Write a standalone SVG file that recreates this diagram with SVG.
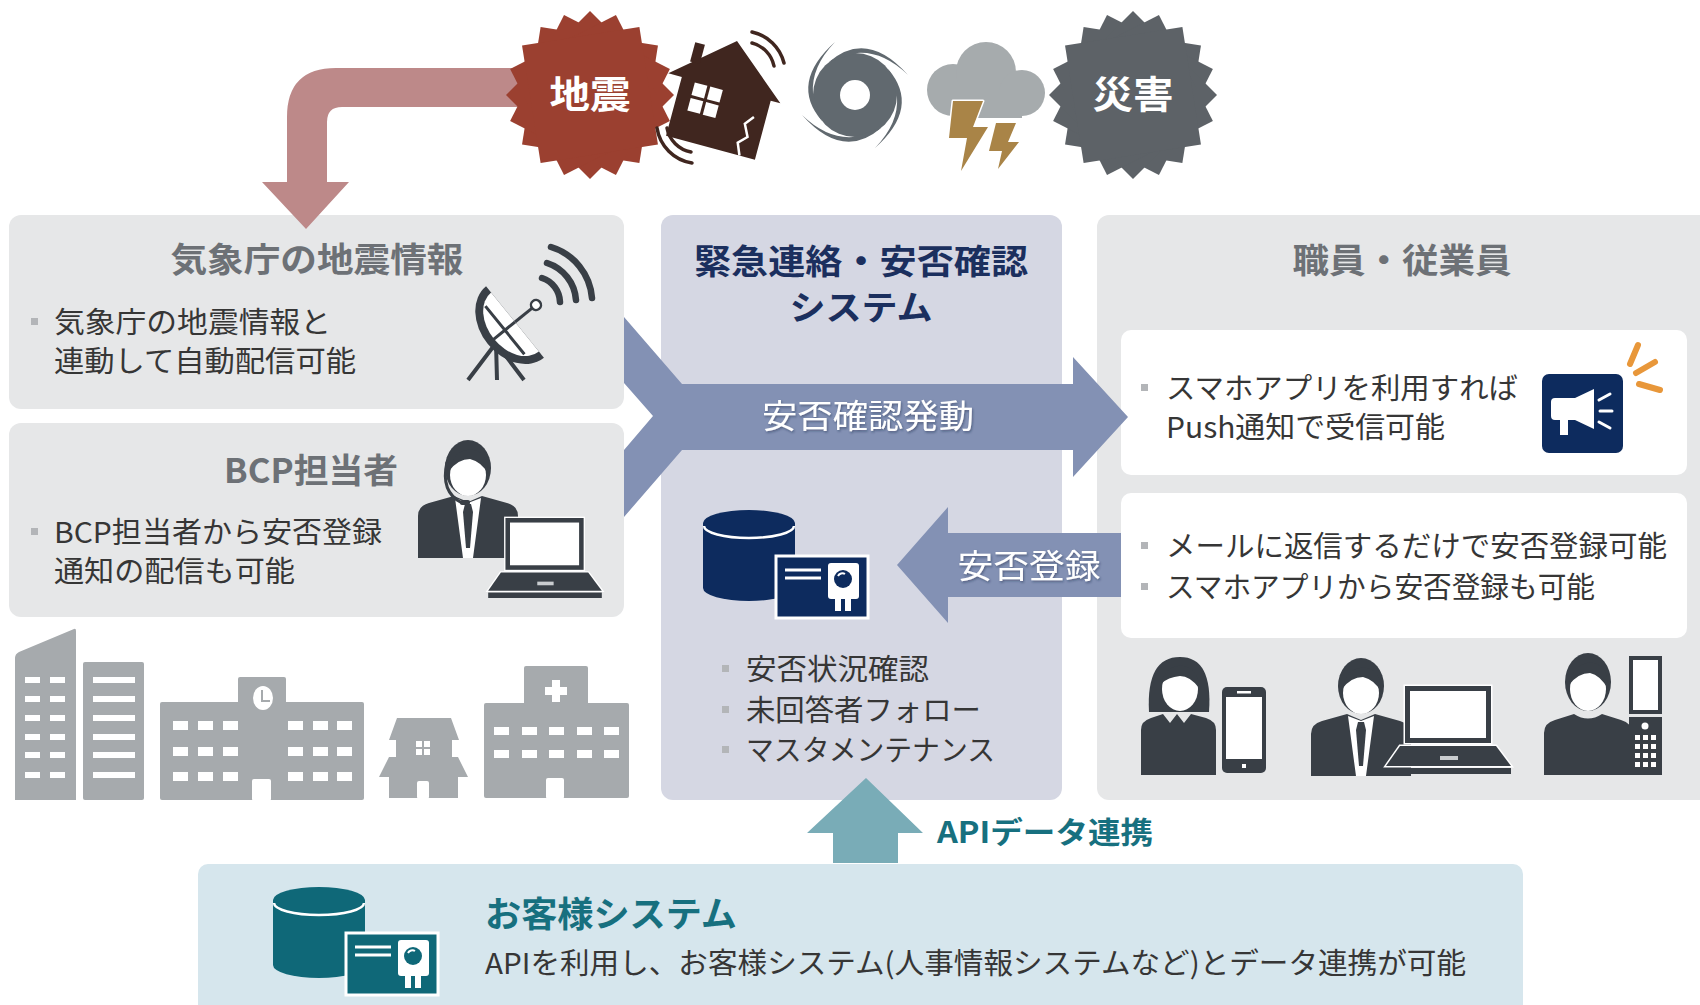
<svg xmlns="http://www.w3.org/2000/svg" width="1700" height="1005" viewBox="0 0 1700 1005">
  <style>
    text { font-family: "Noto Sans CJK JP", "Noto Sans", sans-serif; }
    .panel { fill: #e6e7e8; }
    .title { font-size: 34px; font-weight: bold; fill: #6d7176; text-anchor: middle; }
    .body { font-size: 29px; fill: #363636; }
    .bullet { fill: #b3b5b8; }
    .dark { fill: #393f46; }
    .bld { fill: #a6aaad; }
    .win { fill: #ffffff; }
    .burst-text { font-size: 38px; font-weight: bold; fill: #ffffff; text-anchor: middle; }
    .arrow-label { font-size: 33px; fill: #ffffff; text-anchor: middle; filter: url(#soft); }
  </style>
  <defs>
    <filter id="soft" x="-10%" y="-30%" width="120%" height="160%">
      <feDropShadow dx="1" dy="1.5" stdDeviation="1" flood-color="#1c2440" flood-opacity="0.45"/>
    </filter>
    <rect id="sq" x="-59.4" y="-59.4" width="118.8" height="118.8"/>
    <!-- database with a certificate card -->
    <symbol id="dbcard" viewBox="0 0 166 110" overflow="visible">
      <ellipse cx="46" cy="78" rx="46" ry="13"/>
      <rect x="0" y="13" width="92" height="65"/>
      <ellipse cx="46" cy="13" rx="46" ry="13"/>
      <path d="M1,16 A45,12 0 0 0 91,16" fill="none" stroke="#ffffff" stroke-width="2.5"/>
      <rect x="73" y="46" width="92" height="62" stroke="#ffffff" stroke-width="3"/>
      <path d="M82,60 H118 M82,68 H118" stroke="#ffffff" stroke-width="3"/>
      <rect x="125" y="53" width="31" height="36" rx="3" fill="#ffffff"/>
      <circle cx="140" cy="69" r="9"/>
      <path d="M135,66 a5,5 0 0 1 7,-2" stroke="#ffffff" stroke-width="2" fill="none"/>
      <rect x="132" y="86" width="6" height="15" fill="#ffffff"/>
      <rect x="142" y="86" width="6" height="15" fill="#ffffff"/>
    </symbol>
    <!-- person in a suit -->
    <symbol id="suit" viewBox="0 0 100 118" overflow="visible">
      <path d="M0,118 V76 Q0,66 11,63 L36,56 L50,62 L64,56 L89,63 Q100,66 100,76 V118 Z"/>
      <path d="M37,58 L50,63 L63,58 L55,118 L45,118 Z" fill="#ffffff"/>
      <path d="M47,64 H53 L55,72 L52,108 H48 L45,72 Z"/>
      <ellipse cx="50" cy="28" rx="23" ry="28"/>
      <ellipse cx="50" cy="35" rx="18" ry="21" fill="#ffffff"/>
      <path d="M31,31 Q36,8 56,10 Q71,14 70,34 Q64,22 52,19 Q40,19 31,31 Z"/>
    </symbol>
    <!-- person, casual -->
    <symbol id="plain" viewBox="0 0 88 122" overflow="visible">
      <path d="M0,122 V80 Q0,70 11,67 L30,61 Q44,70 58,61 L77,67 Q88,70 88,80 V122 Z"/>
      <ellipse cx="44" cy="29" rx="23" ry="29"/>
      <ellipse cx="44" cy="36" rx="18" ry="22" fill="#ffffff"/>
      <path d="M25,32 Q30,8 50,10 Q65,14 64,36 Q56,22 46,20 Q34,20 25,32 Z"/>
    </symbol>
    <!-- laptop -->
    <symbol id="laptop" viewBox="0 0 125 88" overflow="visible">
      <rect x="19" y="0" width="86" height="57" stroke="#ffffff" stroke-width="3" paint-order="stroke"/>
      <rect x="24" y="5" width="76" height="47" fill="#ffffff"/>
      <path d="M0,80 L14,60 H110 L125,80 Z" stroke="#ffffff" stroke-width="3" paint-order="stroke"/>
      <rect x="54" y="70" width="18" height="4" fill="#c9cccf"/>
      <rect x="0" y="82" width="125" height="6"/>
    </symbol>
  </defs>

  <!-- panels -->
  <g id="jma-panel">
    <rect class="panel" x="9" y="215" width="615" height="194" rx="12"/>
    <text class="title" x="317" y="272" textLength="293" lengthAdjust="spacingAndGlyphs">気象庁の地震情報</text>
    <rect class="bullet" x="31" y="318" width="7" height="7"/>
    <text class="body" x="54" y="333" textLength="277" lengthAdjust="spacingAndGlyphs">気象庁の地震情報と</text>
    <text class="body" x="54" y="372" textLength="302" lengthAdjust="spacingAndGlyphs">連動して自動配信可能</text>
    <!-- satellite dish -->
    <g class="dark">
      <path d="M496,343 L468,380 M496,343 L497,380 M496,343 L524,380" stroke="#393f46" stroke-width="4" fill="none"/>
      <g transform="translate(515,322) rotate(51)">
        <path d="M-46,0 A46,35 0 0 0 46,0 Z"/>
        <path d="M-38,0 A38,27 0 0 0 38,0 Z" fill="#ffffff"/>
        <path d="M0,0 V30 M-31,13 L31,13" stroke="#393f46" stroke-width="3"/>
        <path d="M0,0 V-24" stroke="#393f46" stroke-width="3"/>
        <circle cx="0" cy="-27" r="5" fill="#ffffff" stroke="#393f46" stroke-width="2.5"/>
      </g>
      <g fill="none" stroke="#393f46" stroke-width="6.5" stroke-linecap="round">
        <path d="M542,278 A26,26 0 0 1 560,302"/>
        <path d="M547,263 A42,42 0 0 1 576,300"/>
        <path d="M551,247 A58,58 0 0 1 592,298"/>
      </g>
    </g>
  </g>

  <g id="bcp-panel">
    <rect class="panel" x="9" y="423" width="615" height="194" rx="12"/>
    <text class="title" x="311" y="483" textLength="174" lengthAdjust="spacingAndGlyphs">BCP担当者</text>
    <rect class="bullet" x="31" y="528" width="7" height="7"/>
    <text class="body" x="54" y="543" textLength="328" lengthAdjust="spacingAndGlyphs">BCP担当者から安否登録</text>
    <text class="body" x="54" y="582" textLength="241" lengthAdjust="spacingAndGlyphs">通知の配信も可能</text>
    <g fill="#393f46">
      <use href="#suit" x="418" y="440" width="100" height="118"/>
      <path d="M447,462 Q440,492 462,503" fill="none" stroke="#393f46" stroke-width="3"/>
      <rect x="460" y="500" width="10" height="5" rx="2"/>
      <use href="#laptop" x="488" y="518" width="114" height="80"/>
    </g>
  </g>

  <g id="system-panel">
    <rect x="661" y="215" width="401" height="585" rx="12" fill="#d5d7e3"/>
    <text x="861" y="274" font-size="34" font-weight="bold" fill="#1b2f5e" text-anchor="middle" textLength="334" lengthAdjust="spacingAndGlyphs">緊急連絡・安否確認</text>
    <text x="861" y="320" font-size="34" font-weight="bold" fill="#1b2f5e" text-anchor="middle" textLength="143" lengthAdjust="spacingAndGlyphs">システム</text>
    <use href="#dbcard" x="703" y="510" width="166" height="110" fill="#0d2b5e"/>
    <rect class="bullet" x="722" y="665" width="7" height="7"/>
    <rect class="bullet" x="722" y="706" width="7" height="7"/>
    <rect class="bullet" x="722" y="746" width="7" height="7"/>
    <text class="body" x="746" y="680" textLength="183" lengthAdjust="spacingAndGlyphs">安否状況確認</text>
    <text class="body" x="746" y="721" textLength="235" lengthAdjust="spacingAndGlyphs">未回答者フォロー</text>
    <text class="body" x="746" y="761" textLength="249" lengthAdjust="spacingAndGlyphs">マスタメンテナンス</text>
  </g>

  <g id="staff-panel">
    <rect class="panel" x="1097" y="215" width="620" height="585" rx="12"/>
    <text class="title" x="1402" y="273" textLength="219" lengthAdjust="spacingAndGlyphs">職員・従業員</text>
    <rect x="1121" y="330" width="566" height="145" rx="10" fill="#ffffff"/>
    <rect x="1121" y="493" width="566" height="145" rx="10" fill="#ffffff"/>
    <rect class="bullet" x="1141" y="384" width="7" height="7"/>
    <text class="body" x="1166" y="399" textLength="352" lengthAdjust="spacingAndGlyphs">スマホアプリを利用すれば</text>
    <text class="body" x="1166" y="438" textLength="279" lengthAdjust="spacingAndGlyphs">Push通知で受信可能</text>
    <rect class="bullet" x="1141" y="542" width="7" height="7"/>
    <text class="body" x="1166" y="557" textLength="501" lengthAdjust="spacingAndGlyphs">メールに返信するだけで安否登録可能</text>
    <rect class="bullet" x="1141" y="583" width="7" height="7"/>
    <text class="body" x="1166" y="598" textLength="429" lengthAdjust="spacingAndGlyphs">スマホアプリから安否登録も可能</text>
    <!-- push notification icon -->
    <rect x="1542" y="374" width="81" height="79" rx="7" fill="#0d2b5e"/>
    <g fill="#ffffff">
      <path d="M1551,402 Q1551,398 1555,398 H1575 L1594,389 V429 L1575,420 H1555 Q1551,420 1551,416 Z"/>
      <rect x="1560" y="418" width="8" height="17"/>
      <path d="M1599,400 L1610,394 M1600,411 H1612 M1599,422 L1610,428" stroke="#ffffff" stroke-width="3" stroke-linecap="round"/>
    </g>
    <g stroke="#e8973a" stroke-width="6" stroke-linecap="round">
      <path d="M1630,364 L1638,345"/>
      <path d="M1636,373 L1655,362"/>
      <path d="M1639,384 L1660,390"/>
    </g>
    <!-- staff with devices -->
    <g fill="#393f46">
      <path d="M1149,712 Q1146,657 1180,657 Q1213,657 1209,712 Z"/>
      <ellipse cx="1180" cy="689" rx="18" ry="22" fill="#ffffff"/>
      <path d="M1161,684 Q1166,664 1184,666 Q1199,670 1199,688 Q1190,676 1180,676 Q1168,677 1161,684 Z"/>
      <path d="M1141,775 V730 Q1141,721 1151,718 L1163,714 L1170,723 L1177,714 L1184,723 L1191,714 L1206,718 Q1216,721 1216,730 V775 Z"/>
      <rect x="1222" y="687" width="44" height="86" rx="5"/>
      <rect x="1226" y="697" width="36" height="62" fill="#ffffff"/>
      <rect x="1237" y="691" width="14" height="2.5" fill="#ffffff"/>
      <rect x="1242" y="764" width="4" height="4" fill="#ffffff"/>
      <use href="#suit" x="1311" y="658" width="100" height="118"/>
      <use href="#laptop" x="1386" y="686" width="125" height="88"/>
      <use href="#plain" x="1544" y="653" width="88" height="122"/>
      <rect x="1629" y="656" width="33" height="58"/>
      <rect x="1633" y="660" width="25" height="50" fill="#ffffff"/>
      <rect x="1629" y="717" width="33" height="58"/>
      <g fill="#ffffff">
        <circle cx="1645" cy="726" r="3.5"/>
        <rect x="1635" y="735" width="5" height="5"/><rect x="1643" y="735" width="5" height="5"/><rect x="1651" y="735" width="5" height="5"/>
        <rect x="1635" y="744" width="5" height="5"/><rect x="1643" y="744" width="5" height="5"/><rect x="1651" y="744" width="5" height="5"/>
        <rect x="1635" y="753" width="5" height="5"/><rect x="1643" y="753" width="5" height="5"/><rect x="1651" y="753" width="5" height="5"/>
        <rect x="1635" y="762" width="5" height="5"/><rect x="1643" y="762" width="5" height="5"/><rect x="1651" y="762" width="5" height="5"/>
      </g>
    </g>
  </g>

  <g id="customer-system">
    <rect x="198" y="864" width="1325" height="160" rx="10" fill="#d6e6ed"/>
    <use href="#dbcard" x="273" y="887" width="166" height="110" fill="#0f6878"/>
    <text x="485" y="927" font-size="35" font-weight="bold" fill="#17707f" textLength="252" lengthAdjust="spacingAndGlyphs">お客様システム</text>
    <text class="body" x="485" y="974" textLength="981" lengthAdjust="spacingAndGlyphs">APIを利用し、お客様システム(人事情報システムなど)とデータ連携が可能</text>
  </g>

  <!-- buildings under the left panels -->
  <g id="buildings" class="bld">
    <path d="M15,800 V658 Q15,654 19,652 L74,629 Q76,628 76,631 V800 Z"/>
    <rect x="83" y="662" width="61" height="138" rx="2"/>
    <rect x="160" y="702" width="204" height="98" rx="2"/>
    <rect x="238" y="677" width="48" height="30" rx="2"/>
    <path d="M389,740 L397,718 H451 L459,740 H452 V757 H458 L468,777 H458 V798 H389 V777 H379 L389,757 H396 V740 Z"/>
    <rect x="484" y="703" width="145" height="95" rx="2"/>
    <rect x="524" y="666" width="64" height="40" rx="2"/>
    <g class="win">
      <rect x="25" y="677" width="15" height="6"/><rect x="50" y="677" width="15" height="6"/>
      <rect x="25" y="696" width="15" height="6"/><rect x="50" y="696" width="15" height="6"/>
      <rect x="25" y="715" width="15" height="6"/><rect x="50" y="715" width="15" height="6"/>
      <rect x="25" y="734" width="15" height="6"/><rect x="50" y="734" width="15" height="6"/>
      <rect x="25" y="752" width="15" height="6"/><rect x="50" y="752" width="15" height="6"/>
      <rect x="25" y="772" width="15" height="6"/><rect x="50" y="772" width="15" height="6"/>
      <rect x="93" y="677" width="42" height="6"/><rect x="93" y="696" width="42" height="6"/>
      <rect x="93" y="715" width="42" height="6"/><rect x="93" y="734" width="42" height="6"/>
      <rect x="93" y="752" width="42" height="6"/><rect x="93" y="772" width="42" height="6"/>
      <rect x="173" y="721" width="15" height="9"/><rect x="198" y="721" width="15" height="9"/><rect x="223" y="721" width="15" height="9"/>
      <rect x="288" y="721" width="15" height="9"/><rect x="313" y="721" width="15" height="9"/><rect x="337" y="721" width="15" height="9"/>
      <rect x="173" y="747" width="15" height="9"/><rect x="198" y="747" width="15" height="9"/><rect x="223" y="747" width="15" height="9"/>
      <rect x="288" y="747" width="15" height="9"/><rect x="313" y="747" width="15" height="9"/><rect x="337" y="747" width="15" height="9"/>
      <rect x="173" y="772" width="15" height="9"/><rect x="198" y="772" width="15" height="9"/><rect x="223" y="772" width="15" height="9"/>
      <rect x="288" y="772" width="15" height="9"/><rect x="313" y="772" width="15" height="9"/><rect x="337" y="772" width="15" height="9"/>
      <rect x="252" y="779" width="19" height="22" rx="2"/>
      <ellipse cx="263" cy="698" rx="10" ry="12"/>
      <path d="M262,690 V701 H270" fill="none" stroke="#a6aaad" stroke-width="2"/>
      <rect x="416" y="741" width="6" height="6"/><rect x="424" y="741" width="6" height="6"/>
      <rect x="416" y="749" width="6" height="6"/><rect x="424" y="749" width="6" height="6"/>
      <rect x="417" y="781" width="12" height="18" rx="2"/>
      <path d="M552,680 H560 V687 H567 V695 H560 V702 H552 V695 H545 V687 H552 Z"/>
      <rect x="494" y="727" width="15" height="8"/><rect x="522" y="727" width="15" height="8"/><rect x="549" y="727" width="15" height="8"/><rect x="577" y="727" width="15" height="8"/><rect x="604" y="727" width="15" height="8"/>
      <rect x="494" y="750" width="15" height="8"/><rect x="522" y="750" width="15" height="8"/><rect x="549" y="750" width="15" height="8"/><rect x="577" y="750" width="15" height="8"/><rect x="604" y="750" width="15" height="8"/>
      <rect x="546" y="778" width="18" height="21" rx="2"/>
    </g>
  </g>

  <!-- connectors -->
  <g id="connectors">
    <path d="M545,68 H336 Q287,68 287,117 V182 H262 L306,229 L349,182 H327 V122 Q327,107 342,107 H545 Z" fill="#bd8989"/>
    <path d="M624,317 L682,384 H1073 V357 L1128,417 L1073,477 V450 H682 L624,517 V450 L653,416 L624,383 Z" fill="#8391b4"/>
    <path d="M1121,533 H948 V507 L897,565 L948,623 V597 H1121 Z" fill="#8391b4"/>
    <path d="M833,863 V833 H807 L866,778 L923,833 H898 V863 Z" fill="#79acb7"/>
    <text class="arrow-label" x="868" y="428" textLength="212" lengthAdjust="spacingAndGlyphs">安否確認発動</text>
    <text class="arrow-label" x="1029" y="578" font-size="34" textLength="143" lengthAdjust="spacingAndGlyphs">安否登録</text>
    <text x="937" y="843" font-size="30" font-weight="bold" fill="#17707f" textLength="216" lengthAdjust="spacingAndGlyphs">APIデータ連携</text>
  </g>

  <!-- hazards along the top -->
  <g id="earthquake" transform="translate(590,95)">
    <g fill="#9b4030">
      <use href="#sq" transform="rotate(9)"/>
      <use href="#sq" transform="rotate(27)"/>
      <use href="#sq" transform="rotate(45)"/>
      <use href="#sq" transform="rotate(63)"/>
      <use href="#sq" transform="rotate(81)"/>
    </g>
    <text class="burst-text" x="0" y="13" textLength="81" lengthAdjust="spacingAndGlyphs">地震</text>
  </g>

  <g id="house">
    <g transform="translate(722,97) rotate(15)" fill="#40261f">
      <path d="M0,-58 L58,-9 H48 V52 H-44 V-9 H-58 Z"/>
      <rect x="-40" y="-46" width="10" height="20"/>
      <g fill="#ffffff">
        <rect x="-30" y="-7" width="13" height="13"/><rect x="-14" y="-7" width="13" height="13"/>
        <rect x="-30" y="9" width="13" height="13"/><rect x="-14" y="9" width="13" height="13"/>
      </g>
      <path d="M32,52 L27,40 L35,32 L29,20 L36,11" fill="none" stroke="#ffffff" stroke-width="2.5"/>
    </g>
    <g fill="none" stroke="#40261f" stroke-width="3.5" stroke-linecap="round">
      <path d="M752,32 A42,42 0 0 1 784,63"/>
      <path d="M752,43 A30,30 0 0 1 774,66"/>
      <path d="M657,128 A42,42 0 0 0 692,163"/>
      <path d="M667,128 A30,30 0 0 0 691,152"/>
    </g>
  </g>

  <g id="typhoon" transform="translate(855,95)" fill="#61696f">
    <circle r="42"/>
    <path id="arm" d="M-26,-33 Q12,-66 53,-20 Q28,-44 2,-42 Z"/>
    <use href="#arm" transform="rotate(90)"/>
    <use href="#arm" transform="rotate(180)"/>
    <use href="#arm" transform="rotate(270)"/>
    <circle r="15" fill="#ffffff"/>
  </g>

  <g id="thunderstorm">
    <g fill="#a6abad">
      <circle cx="953" cy="90" r="26"/>
      <circle cx="986" cy="72" r="30"/>
      <circle cx="1022" cy="93" r="23"/>
      <rect x="953" y="90" width="69" height="28"/>
    </g>
    <g fill="#a98447" stroke="#ffffff" stroke-width="3" paint-order="stroke" stroke-linejoin="round">
      <path d="M953,101 H983 L973,127 H988 L961,171 L967,138 H949 Z"/>
      <path d="M996,123 H1016 L1008,142 H1019 L998,169 L1002,151 H989 Z"/>
    </g>
  </g>

  <g id="disaster" transform="translate(1133,95)">
    <g fill="#5d6267">
      <use href="#sq" transform="rotate(9)"/>
      <use href="#sq" transform="rotate(27)"/>
      <use href="#sq" transform="rotate(45)"/>
      <use href="#sq" transform="rotate(63)"/>
      <use href="#sq" transform="rotate(81)"/>
    </g>
    <text class="burst-text" x="0" y="13" textLength="81" lengthAdjust="spacingAndGlyphs">災害</text>
  </g>
</svg>
